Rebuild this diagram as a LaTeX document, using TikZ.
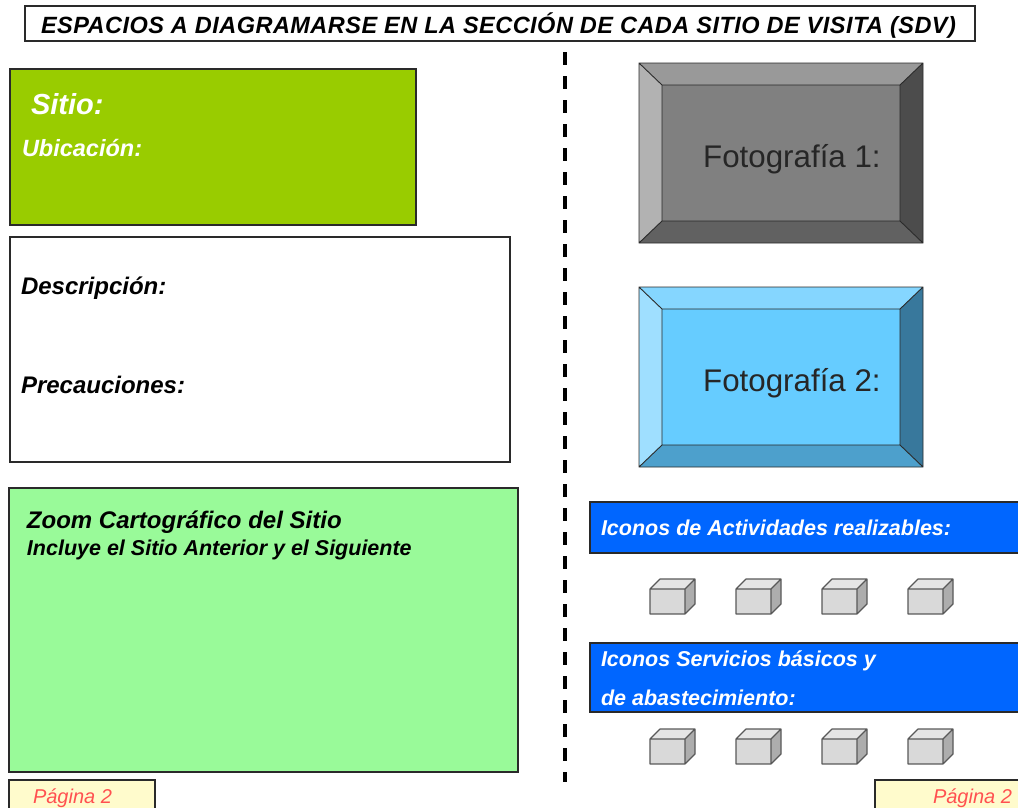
\documentclass[tikz,border=0pt]{standalone}
\usepackage{fontspec}
\setmainfont{Liberation Sans}
\definecolor{sitegreen}{HTML}{99CC00}
\definecolor{mapgreen}{HTML}{99FA99}
\definecolor{iconblue}{HTML}{0066FF}
\definecolor{pageyellow}{HTML}{FFFBCC}
\definecolor{pagered}{HTML}{FF5050}
\definecolor{edge}{HTML}{2A2A2A}
\definecolor{blutop}{HTML}{85D6FF}
\definecolor{bluleft}{HTML}{9FDFFF}
\definecolor{bluright}{HTML}{38789C}
\definecolor{blubottom}{HTML}{4DA0CC}
\definecolor{bluface}{HTML}{66CCFF}
\tikzset{
  panel/.style={draw=edge,line width=1.3pt,anchor=north west,inner sep=0pt,outer sep=0pt},
  lbl/.style={anchor=base west,inner sep=0pt,outer sep=0pt,font=\itshape\bfseries},
  divider/.style={line width=3.5pt,dash pattern=on 13pt off 11pt},
  pics/bevel/.style n args={5}{code={
    \path[fill=#1] (0,0) -- (284,0) -- (261,22) -- (23,22) -- cycle;
    \path[fill=#2] (0,0) -- (23,22) -- (23,158) -- (0,180) -- cycle;
    \path[fill=#3] (284,0) -- (261,22) -- (261,158) -- (284,180) -- cycle;
    \path[fill=#4] (0,180) -- (23,158) -- (261,158) -- (284,180) -- cycle;
    \path[fill=#5] (23,22) rectangle (261,158);
    \draw[line width=0.9pt,draw=edge] (0,0) rectangle (284,180) (23,22) rectangle (261,158)
      (0,0) -- (23,22) (284,0) -- (261,22) (0,180) -- (23,158) (284,180) -- (261,158);
  }},
  pics/cube/.style={code={
    \path[fill=black!10] (0,0) -- (10,-10) -- (45,-10) -- (35,0) -- cycle;
    \path[fill=black!32] (35,0) -- (45,-10) -- (45,15) -- (35,25) -- cycle;
    \path[fill=black!15] (0,0) rectangle (35,25);
    \draw[line width=1.2pt,draw=black!65,line join=round]
      (0,0) rectangle (35,25) (0,0) -- (10,-10) -- (45,-10) -- (45,15) -- (35,25) (35,0) -- (45,-10);
  }}
}
\begin{document}
\begin{tikzpicture}[x=1pt,y=-1pt]
\useasboundingbox (0,0) rectangle (1018,807);
\clip (0,0) rectangle (1018,807);
% title
\node[panel,fill=white,minimum width=950pt,minimum height=35pt] (title) at (25,6) {};
\node[lbl,font=\itshape\bfseries\fontsize{23.5}{25}\selectfont\addfontfeature{LetterSpace=2}] (titletext) at (41,33) {ESPACIOS A DIAGRAMARSE EN LA SECCIÓN DE CADA SITIO DE VISITA (SDV)};
% left panels
\node[panel,fill=sitegreen,minimum width=406pt,minimum height=156pt] (site) at (10,69) {};
\node[lbl,text=white,font=\itshape\bfseries\fontsize{29}{30}\selectfont] (sitio) at (31,114) {Sitio:};
\node[lbl,text=white,font=\itshape\bfseries\fontsize{23.5}{26}\selectfont] (ubic) at (22,156) {Ubicación:};
\node[panel,fill=white,minimum width=500pt,minimum height=225pt] (desc) at (10,237) {};
\node[lbl,font=\itshape\bfseries\fontsize{24}{26}\selectfont] (desctext) at (21,294) {Descripción:};
\node[lbl,font=\itshape\bfseries\fontsize{24}{26}\selectfont] (prectext) at (21,393) {Precauciones:};
\node[panel,fill=mapgreen,minimum width=509pt,minimum height=284pt] (map) at (9,488) {};
\node[lbl,font=\itshape\bfseries\fontsize{24}{26}\selectfont] (zoom) at (27,528) {Zoom Cartográfico del Sitio};
\node[lbl,font=\itshape\bfseries\fontsize{21.5}{24}\selectfont] (incl) at (27,555) {Incluye el Sitio Anterior y el Siguiente};
% divider
\coordinate (divtop) at (565,52);
\coordinate (divbot) at (565,782);
\draw[divider] (divtop) -- (divbot);
% photos
\pic at (639,63) {bevel={black!40}{black!30}{black!70}{black!62}{black!50}};
\node[anchor=base west,inner sep=0pt,text=black!85,font=\fontsize{31.3}{34}\selectfont] (foto1) at (703,167) {Fotografía 1:};
\pic at (639,287) {bevel={blutop}{bluleft}{bluright}{blubottom}{bluface}};
\node[anchor=base west,inner sep=0pt,text=black!85,font=\fontsize{31.3}{34}\selectfont] (foto2) at (703,391) {Fotografía 2:};
% icon bars
\node[panel,fill=iconblue,minimum width=440pt,minimum height=51pt] (bar1) at (590,502) {};
\node[lbl,text=white,font=\itshape\bfseries\fontsize{21.5}{24}\selectfont] (bar1text) at (601,535) {Iconos de Actividades realizables:};
\node[panel,fill=iconblue,minimum width=440pt,minimum height=69pt] (bar2) at (590,643) {};
\node[lbl,text=white,font=\itshape\bfseries\fontsize{21.5}{24}\selectfont] (bar2a) at (601,666) {Iconos Servicios básicos y};
\node[lbl,text=white,font=\itshape\bfseries\fontsize{21.5}{24}\selectfont] (bar2b) at (601,705) {de abastecimiento:};
% cubes
\foreach \cx in {650,736,822,908}{
  \pic at (\cx,589) {cube};
  \pic at (\cx,739) {cube};
}
% page tags
\node[panel,fill=pageyellow,minimum width=146pt,minimum height=40pt] (pageL) at (9,780) {};
\node[lbl,text=pagered,font=\itshape\fontsize{20}{22}\selectfont] (pageLt) at (33,803) {Página 2};
\node[panel,fill=pageyellow,minimum width=160pt,minimum height=40pt] (pageR) at (875,780) {};
\node[lbl,text=pagered,font=\itshape\fontsize{20}{22}\selectfont] (pageRt) at (933,803) {Página 2};
\end{tikzpicture}
\end{document}
